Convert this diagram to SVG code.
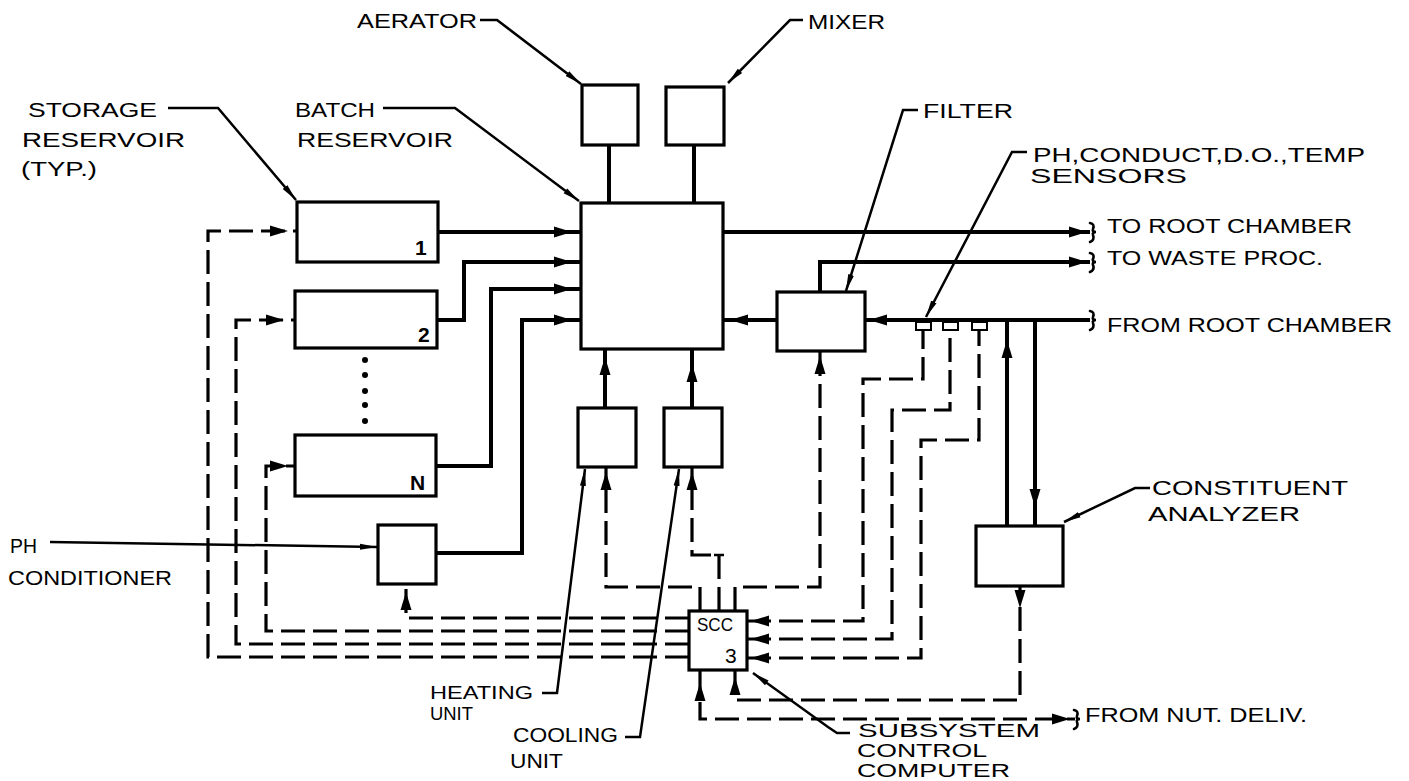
<svg xmlns="http://www.w3.org/2000/svg" xmlns:xlink="http://www.w3.org/1999/xlink" width="1409" height="781" viewBox="0 0 1409 781">
<style>
.bx{fill:#fff;stroke:#000;stroke-width:3.2}
.s{fill:none;stroke:#000;stroke-width:4;stroke-linejoin:miter}
.d{fill:none;stroke:#000;stroke-width:3.2;stroke-dasharray:24 8}
.l{fill:none;stroke:#000;stroke-width:2.5}
.br{fill:none;stroke:#000;stroke-width:2.6;stroke-linecap:round}
.t{font-family:"Liberation Sans",Arial,sans-serif;font-size:21px;fill:#000}
.ts{font-family:"Liberation Sans",Arial,sans-serif;font-size:19px;fill:#000}
.sn{fill:#fff;stroke:#000;stroke-width:2}
</style>
<defs>
<path id="ah" d="M0,0 L-18,-5.5 L-18,5.5 Z" fill="#000"/>
<path id="brk" class="br" d="M-2,-9 Q3,-8 1,-3 Q0,0 4,0 Q0,0 1,3 Q3,8 -2,10"/>
<marker id="la" markerWidth="18" markerHeight="10" refX="17" refY="5" orient="auto" markerUnits="userSpaceOnUse"><path d="M0,2 L17,5 L0,8 Z" fill="#000"/></marker>
</defs>
<rect width="1409" height="781" fill="#fff"/>

<g id="connectors">
<!-- solid flow lines -->
<path class="s" d="M438,232 H581"/>
<path class="s" d="M437,320 H464 V262 H581"/>
<path class="s" d="M436,466 H491 V289 H581"/>
<path class="s" d="M436,553 H522 V320 H581"/>
<path class="s" d="M609,145 V203"/>
<path class="s" d="M694,145 V203"/>
<path class="s" d="M605,408 V349"/>
<path class="s" d="M692,408 V349"/>
<path class="s" d="M723,232 H1090"/>
<path class="s" d="M820,292 V262 H1090"/>
<path class="s" d="M1090,320 H865"/>
<path class="s" d="M777,320 H723"/>
<path class="s" d="M1007,526 V320"/>
<path class="s" d="M1035,320 V526"/>
<!-- dashed control lines -->
<path class="d" d="M689,657 H208 V231 H297"/>
<path class="d" d="M689,644 H236 V320 H295"/>
<path class="d" d="M689,631 H266 V466 H295"/>
<path class="d" d="M689,618 H406 V584"/>
<path class="d" d="M700,611 V587 H606 V467"/>
<path class="d" d="M719,611 V555 H692 V467"/>
<path class="l" d="M714,555 H724"/>
<path class="d" d="M735,611 V587 H820 V351"/>
<path class="d" d="M747,621 H863 V379 H923 V329"/>
<path class="d" d="M747,639 H892 V410 H950 V329"/>
<path class="d" d="M747,658 H921 V440 H979 V329"/>
<path class="d" d="M700,670 V719 H1075"/>
<path class="d" d="M735,670 V700 H1020 V586"/>
<!-- arrowheads -->
<use href="#ah" transform="translate(572,232)"/>
<use href="#ah" transform="translate(572,262)"/>
<use href="#ah" transform="translate(572,289)"/>
<use href="#ah" transform="translate(572,320)"/>
<use href="#ah" transform="translate(730,320) rotate(180)"/>
<use href="#ah" transform="translate(869,320) rotate(180)"/>
<use href="#ah" transform="translate(1087,232)"/>
<use href="#ah" transform="translate(1087,262)"/>
<use href="#ah" transform="translate(1007,340) rotate(-90)"/>
<use href="#ah" transform="translate(1035,507) rotate(90)"/>
<use href="#ah" transform="translate(605,357) rotate(-90)"/>
<use href="#ah" transform="translate(692,364) rotate(-90)"/>
<use href="#ah" transform="translate(606,472) rotate(-90)"/>
<use href="#ah" transform="translate(692,472) rotate(-90)"/>
<use href="#ah" transform="translate(820,356) rotate(-90)"/>
<use href="#ah" transform="translate(751,621) rotate(180)"/>
<use href="#ah" transform="translate(751,639) rotate(180)"/>
<use href="#ah" transform="translate(751,658) rotate(180)"/>
<use href="#ah" transform="translate(700,683) rotate(-90)"/>
<use href="#ah" transform="translate(735,677) rotate(-90)"/>
<use href="#ah" transform="translate(1020,608) rotate(90)"/>
<use href="#ah" transform="translate(288,231)"/>
<use href="#ah" transform="translate(284,320)"/>
<use href="#ah" transform="translate(288,466)"/>
<use href="#ah" transform="translate(406,592) rotate(-90)"/>
<use href="#ah" transform="translate(1070,719)"/>
<!-- line-end brackets -->
<use href="#brk" transform="translate(1092,232)"/>
<use href="#brk" transform="translate(1092,262)"/>
<use href="#brk" transform="translate(1092,320)"/>
<use href="#brk" transform="translate(1076,719)"/>
<!-- label leaders -->
<path class="l" marker-end="url(#la)" d="M168,108 H218 L296,200"/>
<path class="l" marker-end="url(#la)" d="M383,108 H455 L579,201"/>
<path class="l" marker-end="url(#la)" d="M480,20 H497 L581,84"/>
<path class="l" marker-end="url(#la)" d="M803,20 H790 L728,83"/>
<path class="l" marker-end="url(#la)" d="M918,110 H903 L846,291"/>
<path class="l" marker-end="url(#la)" d="M1027,152 H1012 L926,317"/>
<path class="l" marker-end="url(#la)" d="M1150,488 H1135 L1064,522"/>
<path class="l" marker-end="url(#la)" d="M542,693 H557 L585,469"/>
<path class="l" marker-end="url(#la)" d="M625,737 H640 L679,469"/>
<path class="l" marker-end="url(#la)" d="M850,733 H837 L828,727 L753,673"/>
<path class="l" marker-end="url(#la)" d="M50,542 L377,547"/>
</g>

<g id="aerator"><rect class="bx" x="582" y="85" width="56" height="60"/>
<text class="t" x="357" y="28" textLength="120" lengthAdjust="spacingAndGlyphs">AERATOR</text></g>
<g id="mixer"><rect class="bx" x="666" y="87" width="58" height="58"/>
<text class="t" x="808" y="29" textLength="77" lengthAdjust="spacingAndGlyphs">MIXER</text></g>
<g id="batch-reservoir"><rect class="bx" x="581" y="203" width="142" height="146"/>
<text class="t" x="295" y="117" textLength="80" lengthAdjust="spacingAndGlyphs">BATCH</text>
<text class="t" x="297" y="147" textLength="156" lengthAdjust="spacingAndGlyphs">RESERVOIR</text></g>
<g id="storage-1"><rect class="bx" x="297" y="202" width="141" height="60"/>
<text class="t" x="415" y="255" font-weight="bold">1</text>
<text class="t" x="28" y="117" textLength="129" lengthAdjust="spacingAndGlyphs">STORAGE</text>
<text class="t" x="22" y="147" textLength="163" lengthAdjust="spacingAndGlyphs">RESERVOIR</text>
<text class="t" x="21" y="176" textLength="76" lengthAdjust="spacingAndGlyphs">(TYP.)</text></g>
<g id="storage-2"><rect class="bx" x="295" y="291" width="142" height="57"/>
<text class="t" x="418" y="342" font-weight="bold">2</text></g>
<g id="storage-dots" fill="#000"><circle cx="365" cy="360" r="3"/><circle cx="365" cy="375" r="3"/><circle cx="365" cy="391" r="3"/><circle cx="365" cy="405" r="3"/><circle cx="365" cy="421" r="3"/></g>
<g id="storage-n"><rect class="bx" x="295" y="435" width="141" height="61"/>
<text class="t" x="410" y="490" font-weight="bold">N</text></g>
<g id="ph-conditioner"><rect class="bx" x="378" y="525" width="58" height="59"/>
<text class="t" x="10" y="553" textLength="27" lengthAdjust="spacingAndGlyphs">PH</text>
<text class="t" x="8" y="585" textLength="164" lengthAdjust="spacingAndGlyphs">CONDITIONER</text></g>
<g id="heating-unit"><rect class="bx" x="578" y="408" width="58" height="59"/>
<text class="ts" x="430" y="699" textLength="103" lengthAdjust="spacingAndGlyphs">HEATING</text>
<text class="ts" x="430" y="720" font-size="17" textLength="43" lengthAdjust="spacingAndGlyphs">UNIT</text></g>
<g id="cooling-unit"><rect class="bx" x="664" y="408" width="58" height="59"/>
<text class="t" x="513" y="742" textLength="105" lengthAdjust="spacingAndGlyphs">COOLING</text>
<text class="t" x="510" y="768" textLength="53" lengthAdjust="spacingAndGlyphs">UNIT</text></g>
<g id="filter"><rect class="bx" x="777" y="292" width="88" height="59"/>
<text class="t" x="923" y="118" textLength="90" lengthAdjust="spacingAndGlyphs">FILTER</text></g>
<g id="sensors"><rect class="sn" x="916" y="322" width="15" height="8"/><rect class="sn" x="943" y="322" width="15" height="8"/><rect class="sn" x="972" y="322" width="15" height="8"/>
<text class="t" x="1033" y="162" textLength="332" lengthAdjust="spacingAndGlyphs">PH,CONDUCT,D.O.,TEMP</text>
<text class="t" x="1030" y="183" textLength="157" lengthAdjust="spacingAndGlyphs">SENSORS</text></g>
<g id="constituent-analyzer"><rect class="bx" x="976" y="526" width="87" height="60"/>
<text class="t" x="1152" y="495" textLength="196" lengthAdjust="spacingAndGlyphs">CONSTITUENT</text>
<text class="t" x="1148" y="521" textLength="152" lengthAdjust="spacingAndGlyphs">ANALYZER</text></g>
<g id="scc"><rect class="bx" x="689" y="611" width="58" height="59"/>
<text class="ts" x="697" y="631" font-size="16" textLength="36" lengthAdjust="spacingAndGlyphs">SCC</text>
<text class="t" x="725" y="663">3</text>
<text class="ts" x="858" y="737" textLength="182" lengthAdjust="spacingAndGlyphs">SUBSYSTEM</text>
<text class="ts" x="857" y="757" font-size="17" textLength="130" lengthAdjust="spacingAndGlyphs">CONTROL</text>
<text class="ts" x="857" y="777" font-size="16" textLength="153" lengthAdjust="spacingAndGlyphs">COMPUTER</text></g>
<g id="endpoints">
<text class="t" x="1107" y="233" textLength="245" lengthAdjust="spacingAndGlyphs">TO ROOT CHAMBER</text>
<text class="t" x="1107" y="265" textLength="216" lengthAdjust="spacingAndGlyphs">TO WASTE PROC.</text>
<text class="t" x="1107" y="332" textLength="285" lengthAdjust="spacingAndGlyphs">FROM ROOT CHAMBER</text>
<text class="t" x="1085" y="722" textLength="222" lengthAdjust="spacingAndGlyphs">FROM NUT. DELIV.</text>
</g>
</svg>
